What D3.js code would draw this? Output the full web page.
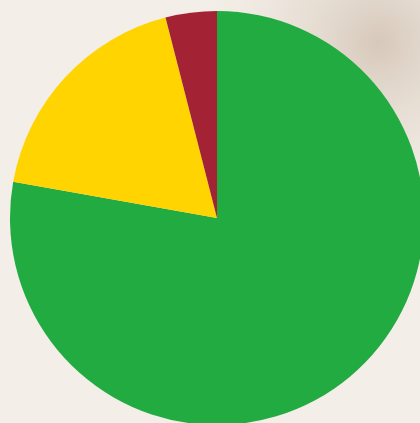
<!DOCTYPE html>
<html>
<head>
<meta charset="utf-8">
<script src="https://cdn.jsdelivr.net/npm/d3@7"></script>
<style>
  html, body { margin: 0; padding: 0; background: #f2ece4; overflow: hidden; }
  svg { display: block; }
</style>
</head>
<body>
<svg id="chart"></svg>
<script>
// Dimensiones
const W = 420, H = 423;
const CX = 217, CY = 218, R = 207;

// Datos (porcentajes, sentido horario desde las 12)
const categories = ["verde", "amarillo", "rojo"];
const values = [77.8, 18.2, 4.0];
const colors = ["#22ab41", "#ffd400", "#a32234"];

const svg = d3.select("#chart").attr("width", W).attr("height", H);

// Fondo con textura suave
const defs = svg.append("defs");
const bg = defs.append("radialGradient").attr("id", "bgTR")
  .attr("cx", "0.9").attr("cy", "0.1").attr("r", "0.45");
bg.append("stop").attr("offset", "0%").attr("stop-color", "#cdbcab").attr("stop-opacity", 0.75);
bg.append("stop").attr("offset", "50%").attr("stop-color", "#e0d5ca").attr("stop-opacity", 0.45);
bg.append("stop").attr("offset", "100%").attr("stop-color", "#f2ece4").attr("stop-opacity", 0);

svg.append("rect").attr("width", W).attr("height", H).attr("fill", "#f3eee7");
svg.append("rect").attr("width", W).attr("height", H).attr("fill", "url(#bgTR)");

// Pie
const pie = d3.pie().sort(null).value(d => d.value);
const arc = d3.arc().innerRadius(0).outerRadius(R);

const data = categories.map((c, i) => ({ name: c, value: values[i], color: colors[i] }));

svg.append("g")
  .attr("transform", `translate(${CX},${CY})`)
  .selectAll("path")
  .data(pie(data))
  .join("path")
  .attr("d", arc)
  .attr("fill", d => d.data.color);
</script>
</body>
</html>
